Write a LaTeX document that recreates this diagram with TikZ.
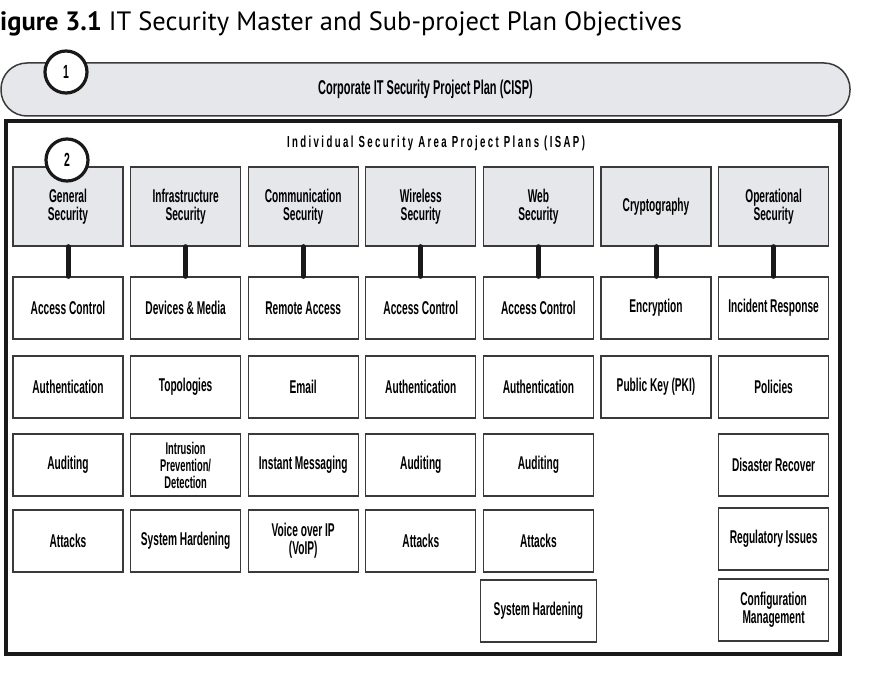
\documentclass[tikz,border=0pt]{standalone}
\usepackage{fontspec}
\setmainfont{Liberation Sans}
\newfontfamily\titlefont{PT Sans}
\newfontfamily\condfont[FakeStretch=0.55]{Liberation Sans}
\newfontfamily\spacedfont[FakeStretch=0.6,LetterSpace=15]{Liberation Sans}
\usetikzlibrary{positioning}
\definecolor{boxgray}{HTML}{E6E7EB}
\definecolor{linegray}{HTML}{3A3A3A}
\tikzset{
  plan/.style={draw=linegray,line width=1.5pt,fill=boxgray,rounded corners=26pt,
    inner sep=0pt,font=\condfont\bfseries\fontsize{20}{20}\selectfont},
  area/.style={draw=linegray,line width=1.3pt,fill=boxgray,minimum width=110pt,
    minimum height=79pt,inner sep=0pt,align=center,
    font=\condfont\bfseries\fontsize{18.5}{18}\selectfont},
  topic/.style={draw=linegray,line width=1.3pt,fill=white,minimum width=110pt,
    minimum height=62pt,inner sep=0pt,align=center,
    font=\condfont\bfseries\fontsize{18.5}{18}\selectfont},
  link/.style={line width=5pt,line cap=round,draw=black!90},
  marker/.style={circle,draw=black!90,line width=3.2pt,fill=white,minimum size=42pt,
    inner sep=0pt,font=\condfont\bfseries\fontsize{19}{19}\selectfont}
}
\begin{document}
\begin{tikzpicture}[x=1pt,y=-1pt,node distance=6.3pt]
  \useasboundingbox (0,0) rectangle (875,687);

  % caption
  \node[anchor=base west,inner sep=0pt,font=\titlefont\fontsize{26.5}{26.5}\selectfont] (caption) at (0,31)
    {\textbf{igure 3.1} IT Security Master and Sub-project Plan Objectives};

  % master plan
  \node[plan,minimum width=849pt,minimum height=53pt] (cisp) at (425.5,89.5)
    {Corporate IT Security Project Plan (CISP)};
  \node[marker] (one) at (66,72) {1};

  % sub-project plans
  \node[draw=black!90,line width=4pt,minimum width=834pt,minimum height=533pt,inner sep=0pt] (isap) at (423,387.5) {};
  \node[font=\spacedfont\bfseries\fontsize{16}{16}\selectfont] (isaplabel) at (436,143)
    {Individual Security Area Project Plans (ISAP)};

  \node[area] (gen) at (68,206.5) {General\\Security};
  \node[area,right=of gen] (infra) {Infrastructure\\Security};
  \node[area,right=of infra] (comm) {Communication\\Security};
  \node[area,right=of comm] (wless) {Wireless\\Security};
  \node[area,right=of wless] (web) {Web\\Security};
  \node[area,right=of web] (crypt) {Cryptography};
  \node[area,right=of crypt] (oper) {Operational\\Security};
  \node[marker] (two) at (67,160) {2};

  % general security
  \node[topic,below=29.7pt of gen] (acc1) {Access Control};
  \node[topic,below=15.7pt of acc1] (auth1) {Authentication};
  \node[topic,below=14.7pt of auth1] (aud1) {Auditing};
  \node[topic,below=12.7pt of aud1] (att1) {Attacks};

  % infrastructure security
  \node[topic,below=29.7pt of infra] (dev) {Devices \& Media};
  \node[topic,below=15.7pt of dev] (topo) {Topologies};
  \node[topic,below=14.7pt of topo,font=\condfont\bfseries\fontsize{17}{17}\selectfont] (ips) {Intrusion\\Prevention/\\Detection};
  \node[topic,below=12.7pt of ips] (hard2) {System Hardening};

  % communication security
  \node[topic,below=29.7pt of comm] (remote) {Remote Access};
  \node[topic,below=15.7pt of remote] (email) {Email};
  \node[topic,below=14.7pt of email] (im) {Instant Messaging};
  \node[topic,below=12.7pt of im] (voip) {Voice over IP\\(VoIP)};

  % wireless security
  \node[topic,below=29.7pt of wless] (acc4) {Access Control};
  \node[topic,below=15.7pt of acc4] (auth4) {Authentication};
  \node[topic,below=14.7pt of auth4] (aud4) {Auditing};
  \node[topic,below=12.7pt of aud4] (att4) {Attacks};

  % web security
  \node[topic,below=29.7pt of web] (acc5) {Access Control};
  \node[topic,below=15.7pt of acc5] (auth5) {Authentication};
  \node[topic,below=14.7pt of auth5] (aud5) {Auditing};
  \node[topic,below=12.7pt of aud5] (att5) {Attacks};
  \node[topic,below=6.7pt of att5,minimum width=116pt] (hard5) {System Hardening};

  % cryptography
  \node[topic,below=29.7pt of crypt] (enc) {Encryption};
  \node[topic,below=15.7pt of enc] (pki) {Public Key (PKI)};

  % operational security
  \node[topic,below=29.7pt of oper] (inc) {Incident Response};
  \node[topic,below=15.7pt of inc] (pol) {Policies};
  \node[topic,below=14.7pt of pol] (dis) {Disaster Recover};
  \node[topic,below=10.7pt of dis] (reg) {Regulatory Issues};
  \node[topic,below=7.7pt of reg] (conf) {Configuration\\Management};

  \draw[link] (gen) -- (acc1);
  \draw[link] (infra) -- (dev);
  \draw[link] (comm) -- (remote);
  \draw[link] (wless) -- (acc4);
  \draw[link] (web) -- (acc5);
  \draw[link] (crypt) -- (enc);
  \draw[link] (oper) -- (inc);
\end{tikzpicture}
\end{document}
